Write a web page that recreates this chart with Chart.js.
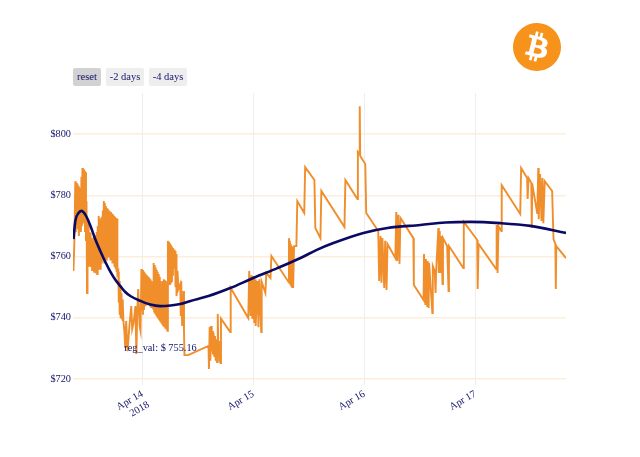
<!DOCTYPE html>
<html>
<head>
<meta charset="utf-8">
<script src="https://cdn.jsdelivr.net/npm/chart.js@4"></script>
<style>
  body { margin: 0; background: #fff; font-family: "Liberation Serif", serif; }
  #wrap { position: relative; width: 640px; height: 457px; }
  .btn { position: absolute; top: 68px; height: 18px; line-height: 18px; text-align: center;
         background: #eeeeee; color: #14146a; font-size: 10.5px; border-radius: 2px; }
  #logo { position: absolute; left: 513px; top: 23px; }
</style>
</head>
<body>
<div id="wrap">
  <canvas id="priceChart" width="640" height="457"></canvas>
  <div class="btn" style="left:73px;width:28px;background:#d2d2d4">reset</div>
  <div class="btn" style="left:106px;width:38px">-2 days</div>
  <div class="btn" style="left:149px;width:38px">-4 days</div>
  <svg id="logo" width="48" height="48" viewBox="0 0 64 64">
    <path fill="#f7931a" d="M63.04 39.741c-4.274 17.143-21.638 27.575-38.783 23.301C7.12 58.768-3.313 41.404.962 24.262 5.234 7.117 22.597-3.317 39.737.957c17.144 4.274 27.576 21.64 23.302 38.784z"/>
    <path fill="#fff" d="M46.11 27.441c.636-4.258-2.606-6.547-7.039-8.074l1.438-5.768-3.512-.875-1.4 5.616c-.922-.23-1.87-.447-2.812-.662l1.41-5.653-3.509-.875-1.439 5.766c-.764-.174-1.514-.346-2.242-.527l.004-.018-4.842-1.209-.934 3.75s2.605.597 2.55.634c1.422.355 1.68 1.296 1.636 2.042l-1.638 6.571c.098.025.225.061.365.117l-.37-.092-2.297 9.205c-.174.432-.615 1.08-1.609.834.035.051-2.552-.637-2.552-.637l-1.743 4.02 4.57 1.139c.85.213 1.683.436 2.502.646l-1.453 5.835 3.507.875 1.44-5.772c.957.26 1.887.5 2.797.726L27.504 50.8l3.511.875 1.453-5.823c5.987 1.133 10.49.676 12.383-4.738 1.527-4.36-.075-6.875-3.225-8.516 2.294-.531 4.022-2.04 4.483-5.157zM38.087 38.69c-1.086 4.36-8.426 2.004-10.807 1.412l1.928-7.729c2.38.594 10.011 1.77 8.88 6.317zm1.085-11.312c-.99 3.966-7.1 1.951-9.083 1.457l1.748-7.01c1.983.494 8.367 1.416 7.335 5.553z"/>
  </svg>
</div>
<script>
// [hours from Apr 14 2018 00:00, price]
const pricePoints = [
  [-14.9,755.3],[-14.7,765.1],[-14.5,784.6],[-14.39,768],[-14.28,784],[-14.17,770.1],[-14.06,783.5],[-13.95,768.9],[-13.84,782.9],[-13.73,766.7],
  [-13.62,782.4],[-13.51,769],[-13.4,782],[-13.29,768],[-13.18,786],[-13.07,769.9],[-12.96,788.9],[-12.85,770.8],[-12.74,788.5],[-12.63,772],
  [-12.52,787.9],[-12.41,768],[-12.3,787.5],[-12.19,765.1],[-12.08,778],[-11.97,748.1],[-11.86,770],[-11.75,758],[-11.64,772],[-11.53,757],
  [-11.42,768],[-11.31,758],[-11.2,767.7],[-11.09,756.9],[-10.98,766],[-10.87,755.6],[-10.76,765],[-10.65,756.5],[-10.54,766.5],[-10.43,755],
  [-10.32,765],[-10.21,756],[-10.1,767],[-9.99,754.8],[-9.88,768],[-9.77,754.3],[-9.66,770],[-9.55,756],[-9.44,773.2],[-9.33,757],
  [-9.22,772.5],[-9.11,756],[-9,771.5],[-8.89,758],[-8.78,773],[-8.67,759],[-8.56,775],[-8.45,760],[-8.34,778.1],[-8.23,758],
  [-8.12,777.5],[-8.01,760],[-7.9,776.5],[-7.79,759],[-7.68,775.8],[-7.57,760],[-7.46,775.5],[-7.35,761],[-7.24,775],[-7.13,760],
  [-7.02,774.8],[-6.91,759],[-6.8,774.5],[-6.69,760],[-6.58,774],[-6.47,758],[-6.36,773.8],[-6.25,758],[-6.14,773.3],[-6.03,757],
  [-5.92,773],[-5.81,756],[-5.7,772.6],[-5.59,755],[-5.48,772.3],[-5.4,754.3],[-5.2,755],[-5.1,745],[-5,752],[-4.9,741],
  [-4.8,750.4],[-4.7,739.9],[-4.6,748],[-4.5,739.5],[-4.4,746],[-4.3,738.9],[-4.2,745.5],[-4.1,739],[-3.9,735.7],[-3.7,730.1],
  [-3.5,738.9],[-3.2,729.1],[-2.8,737.3],[-2.4,743.8],[-2.2,736.3],[-1.9,738.3],[-1.5,743.8],[-1.3,728.2],[-1.1,742.2],[-0.9,749.4],
  [-0.6,737.3],[-0.4,735.7],[-0.2,755.9],[-0.09,742],[0.02,755.6],[0.13,741],[0.24,755.1],[0.35,742.5],[0.46,754.8],[0.57,744],
  [0.68,754.4],[0.79,745],[0.9,754],[1.01,746],[1.12,753.6],[1.23,745],[1.34,753.3],[1.45,744.5],[1.56,752.9],[1.67,744],
  [1.78,752.5],[1.89,743.5],[2,752],[2.11,744],[2.22,751.4],[2.33,743],[2.44,757.9],[2.55,742],[2.66,757.2],[2.77,741.5],
  [2.88,756.4],[2.99,741],[3.1,755.7],[3.21,740.5],[3.32,755],[3.43,740],[3.54,754.3],[3.65,739.5],[3.76,753.4],[3.87,739],
  [3.98,752],[4.09,738.5],[4.2,750.9],[4.31,738],[4.42,752],[4.53,737.5],[4.64,752.6],[4.75,737.2],[4.86,752.3],[4.97,736.8],
  [5.08,752],[5.19,736.5],[5.3,751],[5.41,735.7],[5.52,765.1],[5.63,752],[5.74,764.8],[5.85,751],[5.96,764.3],[6.07,751.5],
  [6.18,763.8],[6.29,752],[6.4,763.3],[6.51,754],[6.62,762.8],[6.73,756],[6.84,762.3],[6.95,758],[7.06,761.8],[7.17,750],
  [7.28,760.8],[7.39,747.1],[7.6,755.3],[7.8,749.4],[8.2,751],[8.3,740.6],[8.4,752],[8.6,737.3],[8.9,748.7],[9,735.7],
  [9.1,727.8],[9.9,727.8],[14.3,730.8],[14.4,723.3],[14.55,737],[14.7,726],[14.85,737.3],[15,729],[15.1,735.7],[15.25,728],
  [15.4,735],[15.55,727.5],[15.7,734],[15.85,726],[16,733],[16.15,725.5],[16.3,741.2],[16.45,727],[16.6,732.4],[16.75,726],
  [16.9,725.2],[17,739.7],[19,735.3],[19.1,749.7],[22.9,739.9],[23.1,755.3],[23.4,740.6],[23.6,753.9],[23.8,739.6],[24,753.6],
  [24.2,738.3],[24.4,752.6],[24.5,737.3],[24.9,752],[25.1,736.9],[25.3,752.6],[25.7,735.3],[25.8,751.7],[26.6,748.1],[26.8,754.6],
  [27.7,753],[27.9,760.2],[31.6,751.7],[31.7,766],[31.8,751.4],[31.9,765.1],[32,751],[32.1,764.1],[32.2,750.4],[32.3,763.4],
  [32.4,750],[32.5,763.1],[32.6,749.7],[32.8,763.4],[33.3,763.4],[33.5,778.1],[35,774.2],[35.2,789.2],[37.2,785],[37.4,769.3],
  [38.5,766],[38.7,781.4],[43.7,769.6],[43.9,785],[46.5,778.8],[46.6,794.1],[46.9,793.5],[47,809.1],[47.1,792.8],[48.2,790.2],
  [48.4,774.2],[51,768.3],[51.2,752],[51.5,766.7],[51.7,751.4],[51.9,766],[52.3,749.7],[52.5,765.1],[52.8,749.1],[53,764.1],
  [54.7,759.5],[54.9,774.5],[55.1,758.5],[55.3,773.6],[55.6,757.6],[55.8,772.6],[58.6,766],[58.7,750.7],[60.8,745.8],[60.9,760.8],
  [61.2,744.5],[61.3,759.2],[61.6,743.8],[61.7,758.5],[61.9,743.2],[62,757.9],[62.7,741.5],[62.8,756.9],[63.2,755.3],[63.4,748.1],
  [63.5,754.6],[64,769.3],[64.1,754.6],[64.3,768.3],[64.4,754.6],[64.6,766.7],[64.9,751],[65,766],[65.9,763.4],[66.2,748.7],
  [66.3,763.4],[69.4,756.2],[69.5,771.3],[72.4,765.4],[72.5,749.4],[72.7,764.1],[76.5,755.9],[76.6,770.3],[76.8,754.6],[77,769.9],
  [77.6,768.3],[77.7,783.3],[81.7,773.9],[81.9,788.9],[83.2,785.6],[83.3,778.8],[83.5,785.6],[84.1,784],[84.2,769.3],[84.3,783.7],
  [85.4,773.9],[85.6,788.9],[85.7,772.2],[86,786.9],[86.3,771.6],[86.5,785.6],[86.7,770.9],[87,784.6],[88.6,781.4],[88.9,765.7],
  [89.3,764.1],[89.4,749.4],[89.5,763.4],[91.6,759.5]
];
const regPoints = [
  [-14.9,765.7],[-14.5,771.6],[-13.8,774.2],[-13.2,774.9],[-12.3,773.6],[-11.2,769.9],[-10.2,765.7],[-9.1,761.8],[-8,758.2],[-6.9,755],
  [-5.8,752.3],[-4.8,750.4],[-3.7,748.4],[-2.6,747.1],[-0.4,745.5],[1.7,744.3],[3.9,743.8],[6.1,744],[8.2,744.5],[10.4,745.5],
  [14.3,747.1],[19,749.7],[24,753],[29.2,756.2],[34.2,759.5],[37.6,762.1],[41.3,764.4],[47.8,767.7],[53,769.3],[60.1,770.3],
  [65.5,771.1],[70.9,771.3],[77.4,770.9],[83.9,770],[91.6,767.7]
];
const xTickHours = [0, 24, 48, 72];
const xTickLabels = [["Apr 14", "2018"], "Apr 15", "Apr 16", "Apr 17"];
const yTickValues = [720, 740, 760, 780, 800];
const regNote = "reg_val: $ 755.16";
const regNoteHour = -3.9;
const regNoteValue = 730.1;

const textColor = "#14146a";
const tickFont = { family: "'Liberation Serif', serif", size: 10.3 };

const notePlugin = {
  id: "regNote",
  afterDatasetsDraw(chart) {
    const ctx = chart.ctx;
    ctx.save();
    ctx.font = "10.3px 'Liberation Serif', serif";
    ctx.fillStyle = textColor;
    ctx.textBaseline = "middle";
    ctx.fillText(regNote, chart.scales.x.getPixelForValue(regNoteHour), chart.scales.y.getPixelForValue(regNoteValue));
    ctx.restore();
  }
};

new Chart(document.getElementById("priceChart").getContext("2d"), {
  type: "line",
  data: {
    datasets: [
      {
        label: "reg_val",
        data: regPoints.map((p) => ({ x: p[0], y: p[1] })),
        borderColor: "#0a0a64",
        borderWidth: 2.6,
        pointRadius: 0,
        cubicInterpolationMode: "monotone",
        order: 1
      },
      {
        label: "price",
        data: pricePoints.map((p) => ({ x: p[0], y: p[1] })),
        borderColor: "#ef8e2b",
        borderWidth: 1.9,
        pointRadius: 0,
        tension: 0,
        order: 2
      }
    ]
  },
  options: {
    responsive: false,
    animation: false,
    layout: { padding: { top: 93, right: 74, left: 0, bottom: 0 } },
    plugins: { legend: { display: false }, tooltip: { enabled: false } },
    scales: {
      x: {
        type: "linear",
        min: -15,
        max: 91.6,
        afterBuildTicks: (axis) => { axis.ticks = xTickHours.map((v) => ({ value: v })); },
        afterFit: (axis) => { axis.height = 72; },
        ticks: {
          autoSkip: false,
          minRotation: 30,
          maxRotation: 30,
          padding: 3,
          color: textColor,
          font: tickFont,
          callback: (value) => xTickLabels[xTickHours.indexOf(value)]
        },
        grid: { color: "#eeeeee", drawTicks: false },
        border: { display: false }
      },
      y: {
        min: 718.04,
        max: 813.39,
        afterBuildTicks: (axis) => { axis.ticks = yTickValues.map((v) => ({ value: v })); },
        afterFit: (axis) => { axis.width = 73; },
        ticks: {
          padding: 2,
          color: textColor,
          font: tickFont,
          callback: (value) => "$" + value
        },
        grid: { color: "#fdeddc", lineWidth: 1.5, drawTicks: false },
        border: { display: false }
      }
    }
  },
  plugins: [notePlugin]
});
</script>
</body>
</html>
